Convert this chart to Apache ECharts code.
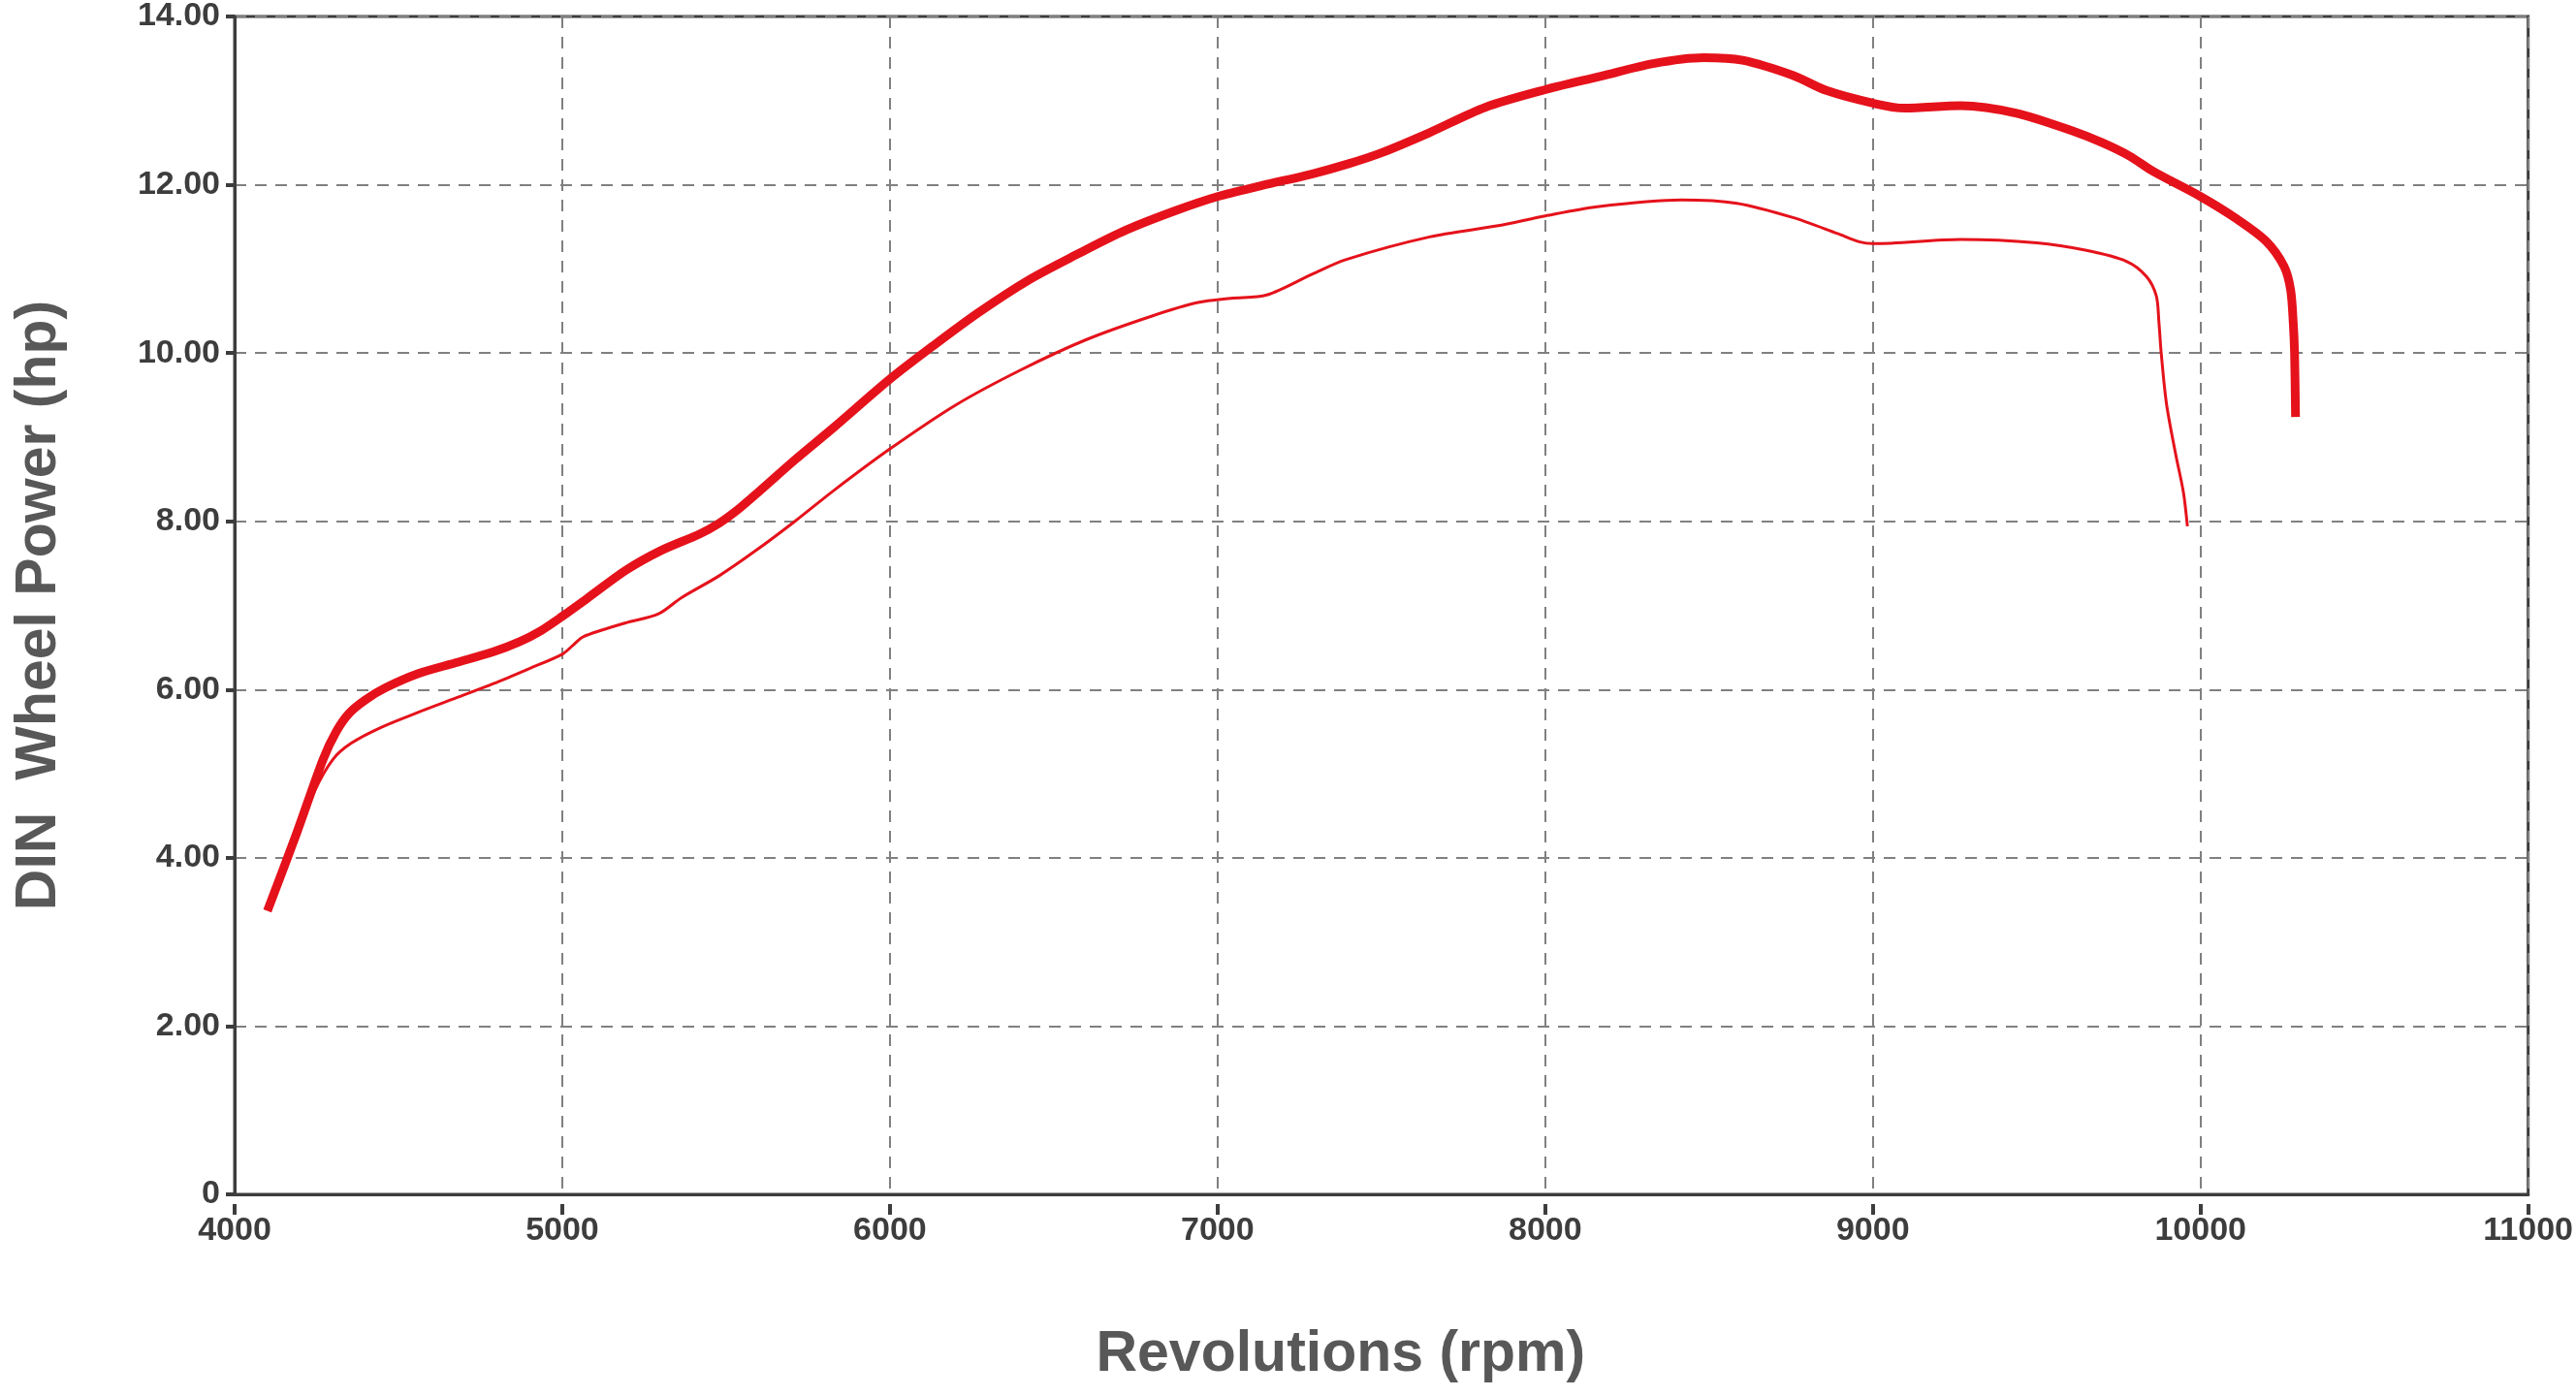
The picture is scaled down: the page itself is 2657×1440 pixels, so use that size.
<!DOCTYPE html>
<html>
<head>
<meta charset="utf-8">
<title>DIN Wheel Power</title>
<script src="https://cdn.jsdelivr.net/npm/echarts@6/dist/echarts.min.js"></script>
<style>
html, body { margin: 0; padding: 0; background: #ffffff; }
#chart { width: 2657px; height: 1440px; }
</style>
</head>
<body>
<div id="chart"></div>
<script>
// ---- data ----
const xTickValues = [4000, 5000, 6000, 7000, 8000, 9000, 10000, 11000];
const yTickLabels = ['0', '2.00', '4.00', '6.00', '8.00', '10.00', '12.00', '14.00'];

const xAxisTitle = 'Revolutions (rpm)';
const yAxisTitle = 'DIN  Wheel Power (hp)';

// thick curve: [rpm, hp]
const runThick = [
  [4100, 3.37], [4190, 4.30], [4270, 5.17], [4310, 5.50], [4350, 5.72], [4400, 5.88],
  [4460, 6.02], [4561, 6.19], [4676, 6.32], [4790, 6.45], [4870, 6.57],
  [4935, 6.70], [5000, 6.87], [5075, 7.08], [5195, 7.42], [5300, 7.65], [5420, 7.85],
  [5480, 7.98], [5530, 8.12], [5605, 8.37], [5710, 8.73], [5830, 9.12], [6000, 9.69],
  [6130, 10.08], [6270, 10.48], [6420, 10.86], [6570, 11.17], [6720, 11.46], [6870, 11.69],
  [7000, 11.86], [7135, 11.99], [7290, 12.13], [7400, 12.25], [7500, 12.38], [7647, 12.62],
  [7817, 12.92], [8000, 13.13], [8170, 13.29], [8329, 13.44], [8483, 13.51], [8602, 13.48],
  [8756, 13.30], [8858, 13.12], [9000, 12.97], [9097, 12.91], [9268, 12.94], [9439, 12.85],
  [9609, 12.64], [9700, 12.50], [9784, 12.34], [9855, 12.16], [10000, 11.86], [10108, 11.60],
  [10200, 11.33], [10255, 11.03], [10275, 10.75], [10283, 10.36], [10287, 10.0], [10290, 9.24]
];

// thin curve: [rpm, hp]
const runThin = [
  [4105, 3.40], [4180, 4.15], [4245, 4.80], [4300, 5.17], [4355, 5.36], [4447, 5.55],
  [4561, 5.73], [4676, 5.90], [4790, 6.07], [4900, 6.25], [5000, 6.42],
  [5031, 6.52], [5065, 6.63], [5191, 6.79], [5294, 6.90], [5363, 7.09], [5478, 7.35],
  [5590, 7.65], [5710, 8.00], [5830, 8.37], [6000, 8.86], [6200, 9.38], [6400, 9.80],
  [6600, 10.16], [6800, 10.44], [6940, 10.60], [7040, 10.65], [7150, 10.69],
  [7290, 10.94], [7391, 11.11], [7647, 11.38], [7852, 11.51], [8000, 11.63], [8159, 11.74],
  [8415, 11.82], [8585, 11.78], [8756, 11.61], [8892, 11.42], [8961, 11.32], [9000, 11.30],
  [9268, 11.35], [9500, 11.31], [9652, 11.22], [9774, 11.09], [9835, 10.91], [9865, 10.68],
  [9873, 10.37], [9880, 10.00], [9896, 9.40], [9924, 8.80], [9948, 8.34], [9960, 7.94]
];

// ---- chart ----
const chart = echarts.init(document.getElementById('chart'), null, { renderer: 'canvas' });
const FONT = '"Liberation Sans", Arial, Helvetica, sans-serif';
const AXIS_COLOR = '#3d3d3d';
const GRID_COLOR = '#808080';
const RED = '#e5121b';

const xMin = xTickValues[0];
const xMax = xTickValues[xTickValues.length - 1];
const xStep = xTickValues[1] - xTickValues[0];

const option = {
  backgroundColor: '#ffffff',
  animation: false,
  grid: {
    left: 242, right: 49, top: 14, bottom: 208,
    show: true, borderColor: AXIS_COLOR, borderWidth: 3, backgroundColor: 'transparent'
  },
  xAxis: [
    {
      type: 'value', min: xMin, max: xMax, interval: xStep,
      axisLine: { show: true, lineStyle: { color: AXIS_COLOR, width: 3 } },
      axisTick: { show: false },
      axisLabel: { show: false },
      splitLine: { show: true, lineStyle: { color: GRID_COLOR, width: 2, type: [12, 9] } },
      name: xAxisTitle,
      nameLocation: 'middle',
      nameGap: 136,
      nameTextStyle: {
        fontFamily: FONT, fontWeight: 'bold', fontSize: 59, color: '#585858',
        padding: [0, 84, 0, 0]
      }
    },
    {
      type: 'value', min: xMin, max: xMax, interval: xStep,
      position: 'bottom', offset: 10,
      axisLine: { show: false },
      axisTick: { show: true, length: 11, lineStyle: { color: AXIS_COLOR, width: 4 } },
      axisLabel: {
        show: true, margin: 11,
        fontFamily: FONT, fontWeight: 'bold', fontSize: 34, color: AXIS_COLOR,
        formatter: function (v) { return String(v); }
      },
      splitLine: { show: false }
    }
  ],
  yAxis: {
    type: 'value', min: 0, max: 14, interval: 2,
    axisLine: { show: true, lineStyle: { color: AXIS_COLOR, width: 3 } },
    axisTick: { show: true, length: 9, lineStyle: { color: AXIS_COLOR, width: 4 } },
    axisLabel: {
      margin: 15,
      fontFamily: FONT, fontWeight: 'bold', fontSize: 34, color: AXIS_COLOR,
      formatter: function (v) { return yTickLabels[Math.round(v / 2)]; }
    },
    splitLine: { show: true, lineStyle: { color: GRID_COLOR, width: 2, type: [12, 9] } },
    name: yAxisTitle,
    nameLocation: 'middle',
    nameGap: 172,
    nameTextStyle: { fontFamily: FONT, fontWeight: 'bold', fontSize: 59, color: '#585858' }
  },
  series: [
    {
      name: 'Run 1', type: 'line', xAxisIndex: 0, data: runThick,
      showSymbol: false, smooth: 0.3,
      lineStyle: { color: RED, width: 9, cap: 'butt', join: 'round' },
      z: 3
    },
    {
      name: 'Run 2', type: 'line', xAxisIndex: 0, data: runThin,
      showSymbol: false, smooth: 0.3,
      lineStyle: { color: RED, width: 3, cap: 'butt', join: 'round' },
      z: 4
    }
  ]
};
chart.setOption(option);
</script>
</body>
</html>
